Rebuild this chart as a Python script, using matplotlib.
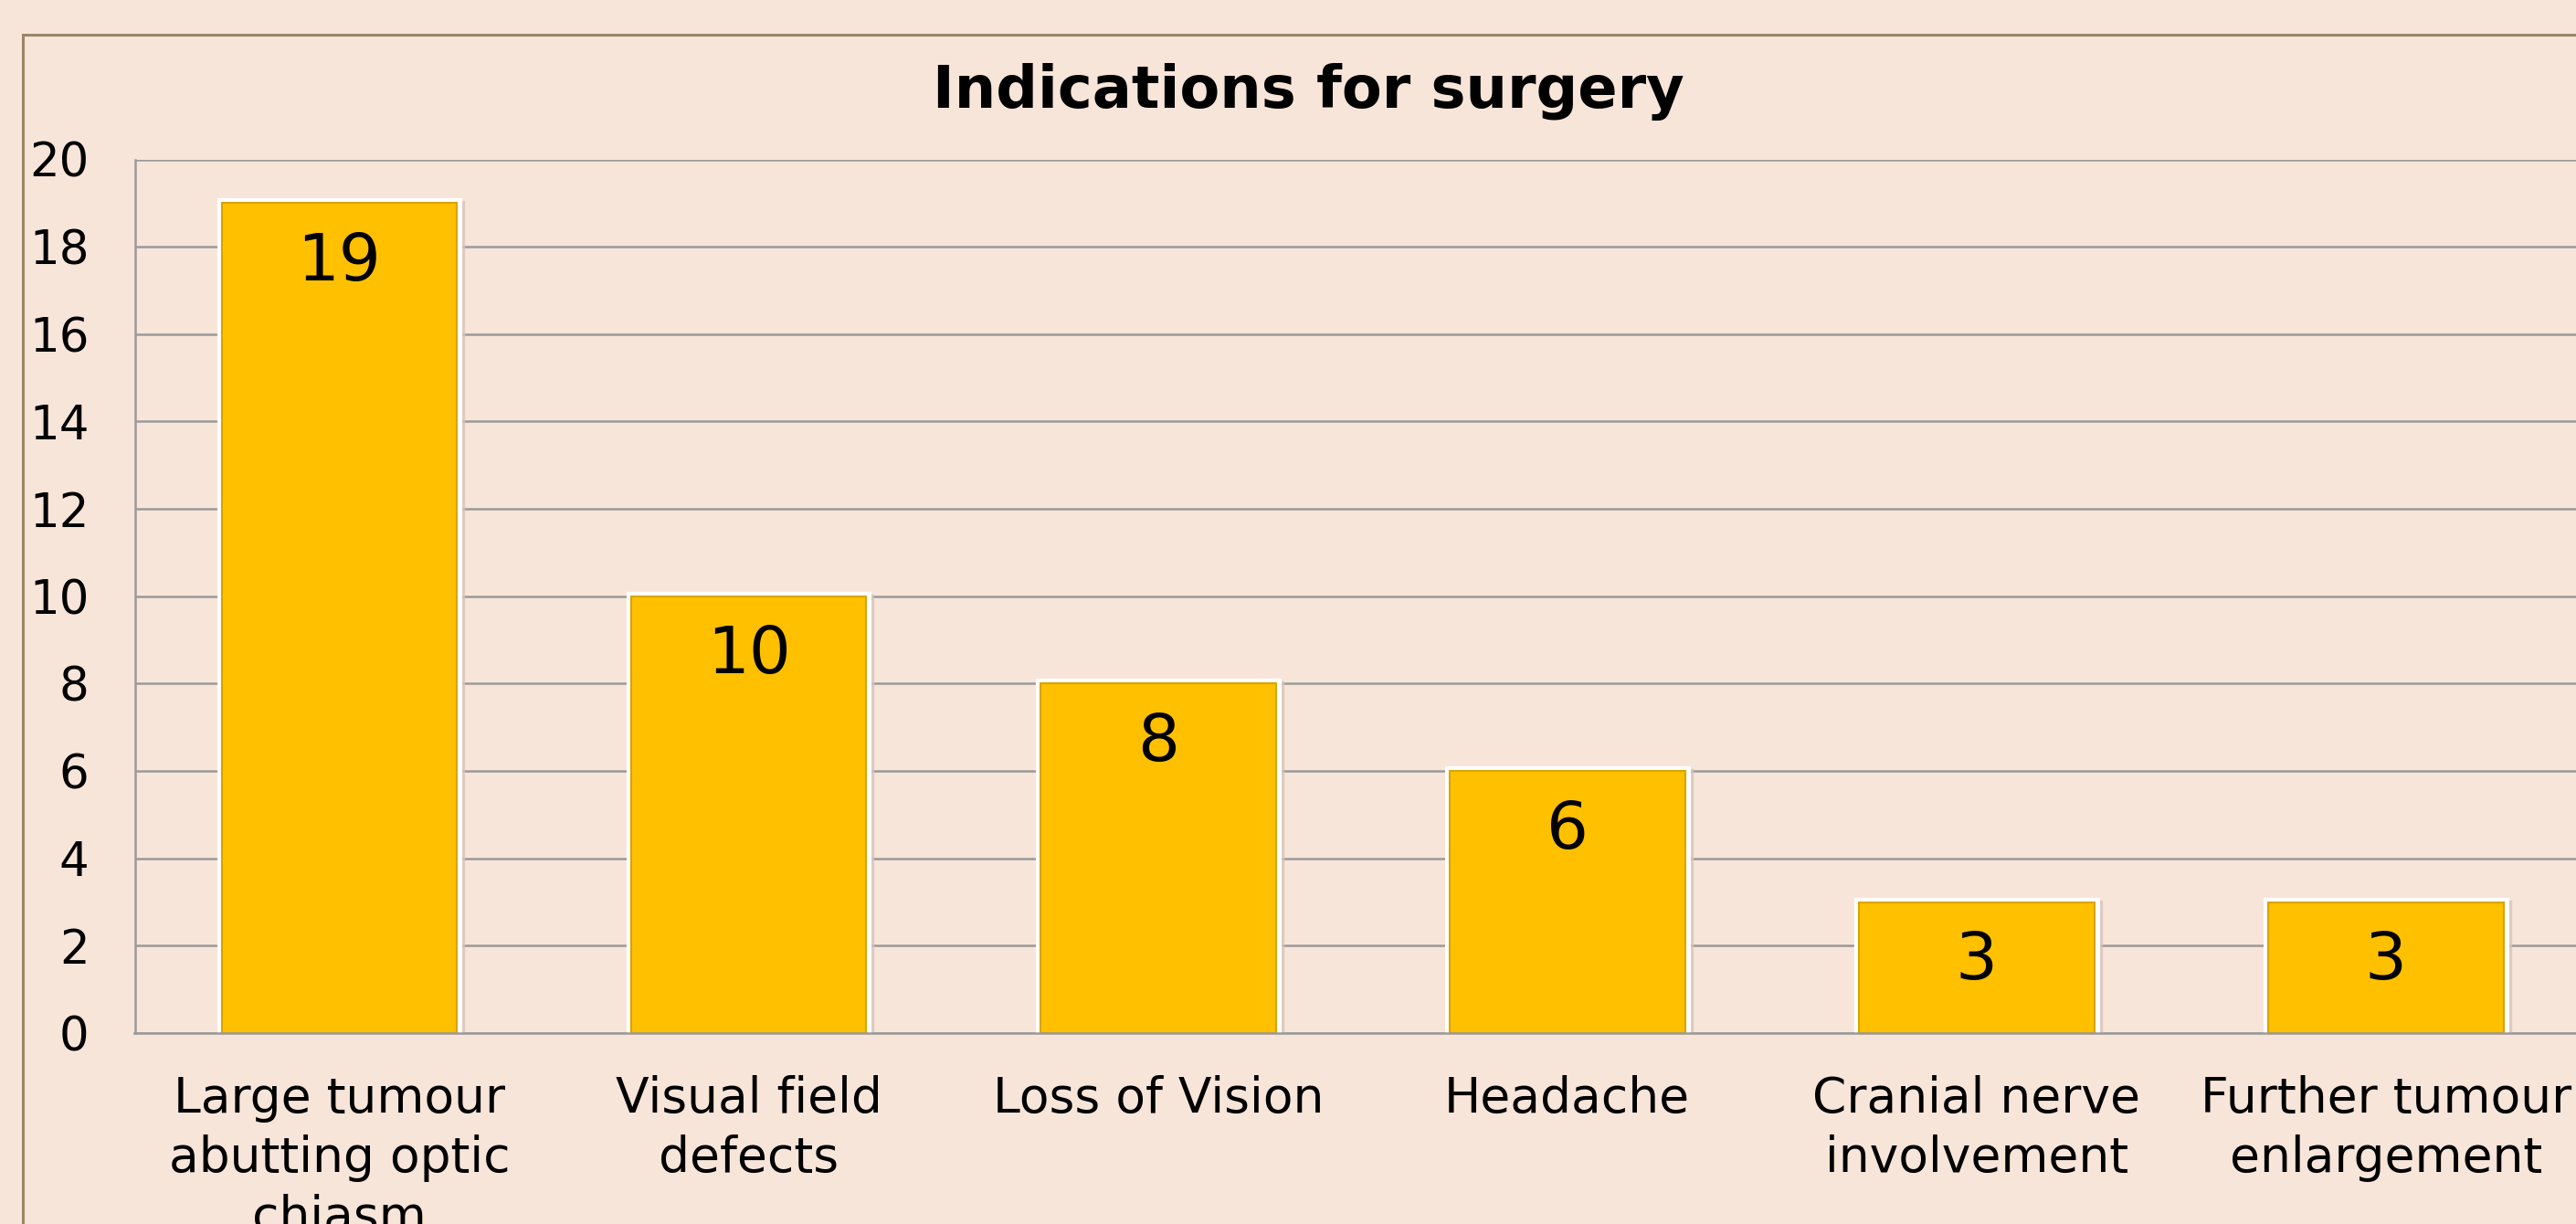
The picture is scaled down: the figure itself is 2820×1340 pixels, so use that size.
import matplotlib
matplotlib.use("Agg")
import matplotlib.pyplot as plt
from matplotlib.patches import Rectangle
from matplotlib.transforms import offset_copy

categories = ["Large tumour\nabutting optic\nchiasm", "Visual field\ndefects", "Loss of Vision",
              "Headache", "Cranial nerve\ninvolvement", "Further tumour\nenlargement"]
values = [19, 10, 8, 6, 3, 3]
yticks = [0, 2, 4, 6, 8, 10, 12, 14, 16, 18, 20]
title = "Indications for surgery"

plt.rcParams['font.family'] = ['DejaVu Sans']
W, H = 2820, 1340
bg = "#F8E5D9"
fig = plt.figure(figsize=(W / 100, H / 100), dpi=100, facecolor=bg)

# outer chart frame (extends beyond right/bottom edge)
fig.patches.append(Rectangle((25 / W, -0.1), 1.2, 1 - 38 / H + 0.1, transform=fig.transFigure,
                             facecolor="none", edgecolor="#9C8468", linewidth=2.2, zorder=0))

left, right, top, bottom = 147.5, 2836, 174.5, 1131
ax = fig.add_axes([left / W, 1 - bottom / H, (right - left) / W, (bottom - top) / H])
ax.set_facecolor("none")
x = list(range(len(values)))
ax.set_xlim(-0.5, len(values) - 0.5)
ax.set_ylim(0, 20)
ax.set_yticks(yticks)
ax.set_yticklabels([str(v) for v in yticks], fontsize=37)
ax.set_xticks(x)
ax.set_xticklabels(categories, fontsize=38.5, linespacing=1.32, va="top")
ax.tick_params(axis="both", length=0)
ax.tick_params(axis="y", pad=36)
ax.tick_params(axis="x", pad=33)
ax.yaxis.grid(True, color="#9A9A9A", linewidth=1.8)
ax.set_axisbelow(True)
for s in ["top", "right"]:
    ax.spines[s].set_visible(False)
for s in ["left", "bottom"]:
    ax.spines[s].set_color("#9A9A9A")
    ax.spines[s].set_linewidth(1.8)

bw = 0.575
# soft shadow
shadow_tr = offset_copy(ax.transData, fig=fig, x=5, y=-2, units="dots")
ax.bar(x, values, width=bw, color="#D8C4B8", edgecolor="#D8C4B8", linewidth=6,
       transform=shadow_tr, zorder=2, alpha=0.8)
# white outline
ax.bar(x, values, width=bw, color="#FFC000", edgecolor="white", linewidth=8, zorder=3)
# bar body with thin darker edge
bars = ax.bar(x, values, width=bw, color="#FFC000", edgecolor="#D9A400", linewidth=1.5, zorder=4)
ax.spines["bottom"].set_zorder(5)

for xi, v in zip(x, values):
    ax.annotate(str(v), (xi, v), xytext=(0, -65), textcoords="offset pixels",
                ha="center", va="center", fontsize=52, zorder=6)

fig.text(1432 / W, 1 - 100 / H, title,
         ha="center", va="center", fontsize=46, fontweight="bold")

fig.savefig("out.png", dpi=100, facecolor=bg)
